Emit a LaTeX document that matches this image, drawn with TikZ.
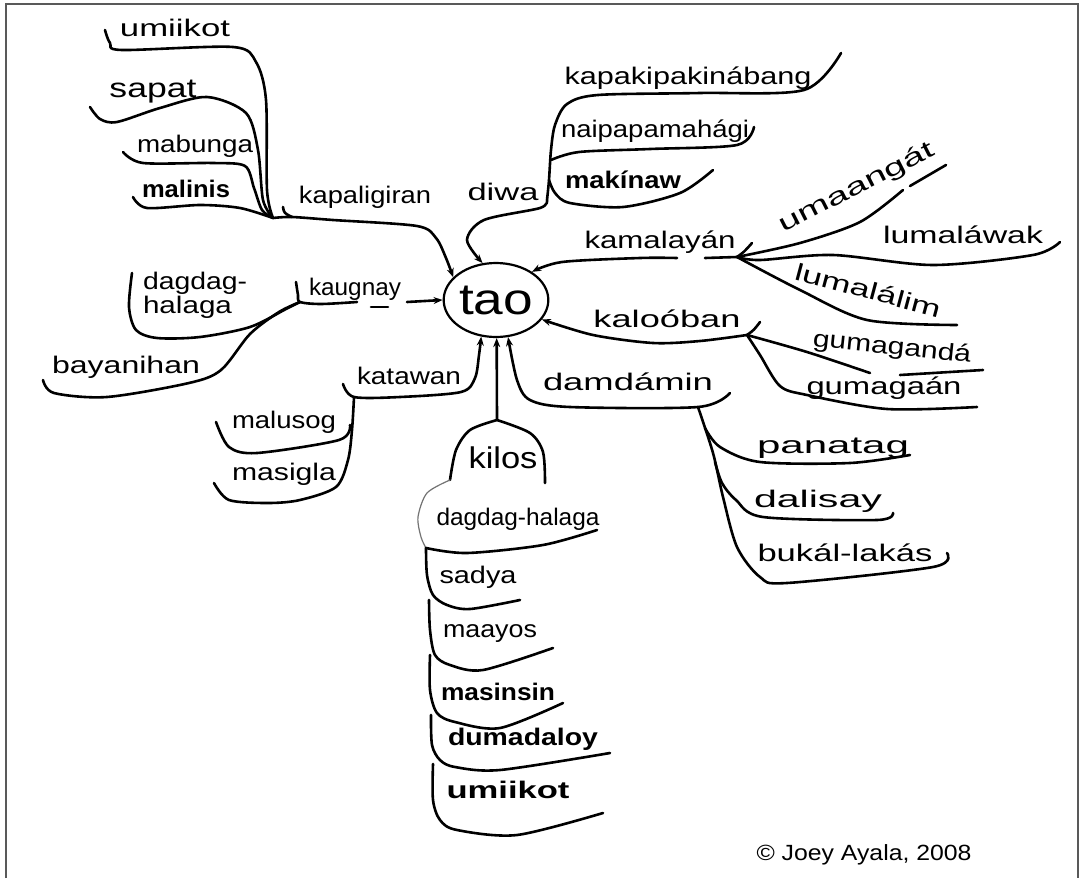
\documentclass[tikz,border=0pt]{standalone}
\usepackage{fontspec}
\setmainfont{Liberation Sans}
\usepackage{graphicx}
\usetikzlibrary{shapes.geometric,arrows.meta}
\newcommand\hw[2]{\resizebox{#1pt}{\height}{#2}}
\begin{document}
\begin{tikzpicture}[x=1pt,y=-1pt,
  br/.style={line width=2.6pt,line cap=round,line join=round},
  fine/.style={line width=1.2pt,line cap=round,black!55},
  lbl/.style={inner sep=0pt,font=\fontsize{24}{26}\selectfont},
  tip/.style={-{Stealth[length=9pt,width=7pt]}}]
\fill[white] (0,0) rectangle (1081,878);
\useasboundingbox (0,0) rectangle (1081,878);
\draw[line width=2pt,black!65] (5.5,878) -- (5.5,4) -- (1078,4) -- (1078,878);

% centre
\node[ellipse,draw,line width=2.2pt,minimum width=102pt,minimum height=74pt,inner sep=0pt,
  font=\fontsize{44}{44}\selectfont] (tao) at (496,300) {\hw{74}{tao}};

% labels
\node[lbl] (a1) at (175,28) {\hw{110}{umiikot}};
\node[lbl,font=\fontsize{27}{29}\selectfont] (a2) at (153,92) {\hw{87}{sapat}};
\node[lbl] (a3) at (195,146) {\hw{116}{mabunga}};
\node[lbl,font=\fontsize{24}{26}\selectfont\bfseries] (a4) at (186,189) {\hw{88}{malinis}};
\node[lbl] (a5) at (365,197) {\hw{132}{kapaligiran}};
\node[lbl] (d0) at (503,192) {\hw{71}{diwa}};
\node[lbl] (d1) at (688,78) {\hw{247}{kapakipakinábang}};
\node[lbl] (d2) at (655,131) {\hw{188}{naipapamahági}};
\node[lbl,font=\fontsize{24}{26}\selectfont\bfseries] (d3) at (623,180) {\hw{116}{makínaw}};
\node[lbl] (k0) at (660,242) {\hw{151}{kamalayán}};
\node[lbl,rotate=27] (k1) at (857,188) {\hw{172}{umaangát}};
\node[lbl] (k2) at (963,235) {\hw{160}{lumaláwak}};
\node[lbl,rotate=-15] (k3) at (868,290) {\hw{150}{lumalálim}};
\node[lbl] (l0) at (667,319) {\hw{147}{kaloóban}};
\node[lbl,rotate=-6] (l1) at (892,348) {\hw{159}{gumagandá}};
\node[lbl] (l2) at (884,388) {\hw{155}{gumagaán}};
\node[lbl] (m0) at (628,382) {\hw{170}{damdámin}};
\node[lbl] (m1) at (833,448) {\hw{152}{panatag}};
\node[lbl] (m2) at (818,501) {\hw{128}{dalisay}};
\node[lbl] (m3) at (845,553) {\hw{175}{bukál-lakás}};
\node[lbl] (g0) at (355,289) {\hw{92}{kaugnay}};
\node[lbl,align=left] (g1) at (195,295) {\hw{104}{dagdag-}\\[-2pt]\hw{89}{halaga}};
\node[lbl] (g2) at (126,367) {\hw{148}{bayanihan}};
\node[lbl] (t0) at (409,376) {\hw{104}{katawan}};
\node[lbl] (t1) at (284,422) {\hw{104}{malusog}};
\node[lbl] (t2) at (284,474) {\hw{104}{masigla}};
\node[lbl,font=\fontsize{30}{32}\selectfont] (i0) at (503,458) {\hw{69}{kilos}};
\node[lbl] (i1) at (518,519) {\hw{163}{dagdag-halaga}};
\node[lbl] (i2) at (478,577) {\hw{77}{sadya}};
\node[lbl] (i3) at (490,634) {\hw{94}{maayos}};
\node[lbl,font=\fontsize{24}{26}\selectfont\bfseries] (i4) at (498,692) {\hw{114}{masinsin}};
\node[lbl,font=\fontsize{24}{26}\selectfont\bfseries] (i5) at (523,739) {\hw{150}{dumadaloy}};
\node[lbl,font=\fontsize{24}{26}\selectfont\bfseries] (i6) at (508,790) {\hw{123}{umiikot}};
\node[lbl,font=\fontsize{22}{24}\selectfont] (cp) at (864,855) {\hw{215}{© Joey Ayala, 2008}};

% junctions and free ends
\coordinate (Jkap) at (273,218);
\coordinate (Jdiwa) at (547,200);
\coordinate (Jnp) at (551,160);
\coordinate (Jmk) at (549,180);
\coordinate (Jkam) at (737,257);
\coordinate (Jkal) at (747,335);
\coordinate (Jdam) at (698,407);
\coordinate (Jpn) at (705,428);
\coordinate (Jdl) at (715,462);
\coordinate (Jkau) at (300,302);
\coordinate (Jkat) at (354,397);
\coordinate (Jml) at (350,425);
\coordinate (Jkil) at (497,420);
\coordinate (klL) at (450,480);
\coordinate (klR) at (545,483);
\coordinate (K0) at (426,548);
\coordinate (K1) at (429,600);
\coordinate (K2) at (430,655);
\coordinate (K3) at (431,715);
\coordinate (K4) at (433,764);

\coordinate (e1) at (105,30);
\coordinate (e2) at (90,107);
\coordinate (e3) at (123,152);
\coordinate (e4) at (133,197);
\coordinate (e5) at (283,207);
\coordinate (e6) at (841,53);
\coordinate (e7) at (754,127);
\coordinate (e8) at (713,170);
\coordinate (e9) at (677,258);
\coordinate (e10) at (705,258);
\coordinate (e11) at (752,243);
\coordinate (e12) at (903,190);
\coordinate (e13) at (910,186);
\coordinate (e14) at (946,165);
\coordinate (e15) at (1060,242);
\coordinate (e16) at (957,325);
\coordinate (e17) at (760,322);
\coordinate (e18) at (870,373);
\coordinate (e19) at (900,375);
\coordinate (e20) at (983,370);
\coordinate (e21) at (977,407);
\coordinate (e22) at (730,393);
\coordinate (e23) at (947,553);
\coordinate (e24) at (910,455);
\coordinate (e25) at (893,513);
\coordinate (e26) at (407,302);
\coordinate (e27) at (296,282);
\coordinate (e28) at (132,273);
\coordinate (e29) at (43,380);
\coordinate (e30) at (343,384);
\coordinate (e31) at (216,422);
\coordinate (e32) at (214,483);
\coordinate (e33) at (597,530);
\coordinate (e34) at (520,600);
\coordinate (e35) at (553,648);
\coordinate (e36) at (563,703);
\coordinate (e37) at (610,753);
\coordinate (e38) at (603,813);
\coordinate (e39) at (357,302);
\coordinate (e40) at (371,307);
\coordinate (e41) at (388,307);

% kapaligiran group
\draw[br] plot[smooth] coordinates {(e1) (110,43) (122,50) (233,47) (256,62) (266,100) (267,190) (Jkap)};
\draw[br] plot[smooth] coordinates {(e2) (100,119) (117,122) (160,108) (207,97) (246,113) (258,150) (263,200) (Jkap)};
\draw[br] plot[smooth] coordinates {(e3) (143,163) (213,163) (245,166) (254,188) (262,210) (Jkap)};
\draw[br] plot[smooth] coordinates {(e4) (147,208) (200,205) (240,208) (Jkap)};
\draw[br,tip] plot[smooth] coordinates {(Jkap) (292,217) (333,220) (417,226) (436,238) (446,258) (tao.152)};
\draw[br] (e5) .. controls (284,213) .. (292,217);

% diwa group
\draw[br] plot[smooth] coordinates {(e6) (804,90) (700,93) (598,95) (567,104) (555,125) (551,150) (549,180) (Jdiwa)};
\draw[br] plot[smooth] coordinates {(e7) (737,145) (650,149) (579,152) (Jnp)};
\draw[br] plot[smooth] coordinates {(e8) (680,193) (623,207) (570,203) (555,193) (Jmk)};
\draw[br,tip] plot[smooth] coordinates {(Jdiwa) (540,208) (484,220) (467,240) (tao.110)};

% kamalayan group
\draw[br,tip] plot[smooth] coordinates {(e9) (640,258) (562,262) (tao.38)};
\draw[br] (e10) -- (Jkam);
\draw[br] (e11) .. controls (744,252) .. (Jkam);
\draw[br] plot[smooth] coordinates {(Jkam) (800,243) (860,222) (e12)};
\draw[br] (e13) -- (e14);
\draw[br] plot[smooth] coordinates {(Jkam) (760,260) (833,255) (933,265) (1033,255) (e15)};
\draw[br] plot[smooth] coordinates {(Jkam) (800,290) (867,320) (e16)};

% kaloob group
\draw[br,tip] plot[smooth] coordinates {(Jkal) (700,341) (653,343) (593,335) (tao.-23)};
\draw[br] (e17) .. controls (754,330) .. (Jkal);
\draw[br] plot[smooth] coordinates {(Jkal) (807,352) (e18)};
\draw[br] (e19) -- (e20);
\draw[br] plot[smooth] coordinates {(Jkal) (760,355) (780,386) (807,395) (887,409) (e21)};

% damdamin group
\draw[br,tip] plot[smooth] coordinates {(e22) (Jdam) (570,407) (530,400) (517,380) (tao.-72)};
\draw[br] plot[smooth] coordinates {(Jdam) (713,453) (723,497) (737,547) (760,577) (787,583) (933,567) (e23)};
\draw[br] plot[smooth] coordinates {(Jpn) (720,447) (760,462) (850,463) (e24)};
\draw[br] plot[smooth] coordinates {(Jdl) (722,483) (736,500) (763,517) (877,520) (e25)};

% kaugnay group
\draw[br,tip] (e26) -- (tao.180);
\draw[br] plot[smooth] coordinates {(e27) (298,295) (Jkau) (321,304) (e39)};
\draw[br] (e40) -- (e41);
\draw[br] plot[smooth] coordinates {(e28) (129,307) (136,330) (157,338) (200,337) (250,327) (286,309) (Jkau)};
\draw[br] plot[smooth] coordinates {(e29) (54,393) (107,397) (189,383) (221,370) (250,334) (279,312) (Jkau)};

% katawan group
\draw[br,tip] plot[smooth] coordinates {(e30) (Jkat) (400,397) (461,392) (475,378) (479,355) (tao.-112)};
\draw[br] plot[smooth] coordinates {(Jkat) (352,430) (348,460) (336,487) (300,500) (268,503) (229,500) (e32)};
\draw[br] plot[smooth] coordinates {(e31) (229,447) (257,453) (339,440) (Jml)};

% kilos group
\draw[br,tip] (Jkil) -- (tao.-89);
\draw[br] plot[smooth] coordinates {(Jkil) (470,430) (456,450) (klL)};
\draw[br] plot[smooth] coordinates {(Jkil) (530,433) (543,452) (klR)};
\draw[fine] plot[smooth] coordinates {(klL) (427,493) (418,517) (421,537) (K0)};
\draw[br] plot[smooth] coordinates {(K0) (467,553) (543,545) (e33)};
\draw[br] plot[smooth] coordinates {(K0) (427,575) (433,595) (447,605) (470,609) (e34)};
\draw[br] plot[smooth] coordinates {(K1) (430,630) (435,655) (450,665) (483,670) (e35)};
\draw[br] plot[smooth] coordinates {(K2) (430,690) (437,713) (455,722) (500,728) (e36)};
\draw[br] plot[smooth] coordinates {(K3) (432,745) (440,760) (455,767) (500,770) (e37)};
\draw[br] plot[smooth] coordinates {(K4) (433,800) (440,820) (457,830) (517,835) (e38)};
\end{tikzpicture}
\end{document}
